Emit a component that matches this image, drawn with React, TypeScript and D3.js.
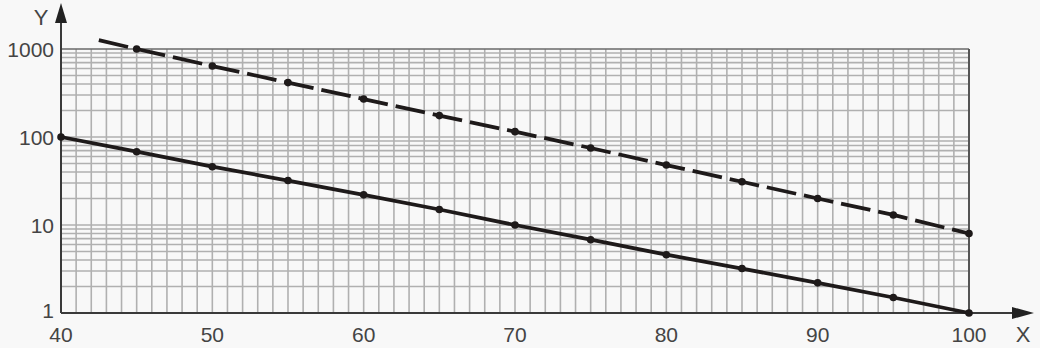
import React from "react";
import * as d3 from "d3";

const xTicks = [40, 50, 60, 70, 80, 90, 100];
const yTicks = [1, 10, 100, 1000];
const solidX = [40, 45, 50, 55, 60, 65, 70, 75, 80, 85, 90, 95, 100];
const solidY = [100, 68, 46, 32, 22, 15, 10, 6.8, 4.6, 3.2, 2.2, 1.5, 1];
const dashX = [42.5, 45, 50, 55, 60, 65, 70, 75, 80, 85, 90, 95, 100];
const dashY = [1260, 1000, 640, 415, 270, 175, 115, 75, 48, 31, 20, 13, 8];
const dashMarkers = [45, 50, 55, 60, 65, 70, 75, 80, 85, 90, 95, 100];

const W = 1040;
const H = 348;

export default function App() {
  const x = d3.scaleLinear().domain([40, 100]).range([61, 969]);
  const y = d3.scaleLog().domain([1, 1000]).range([313, 49]);

  const vGrid = d3.range(41, 100, 1);
  const hGrid: number[] = [];
  for (const dec of [1, 10, 100]) {
    for (let k = 2; k <= 10; k++) hGrid.push(dec * k);
  }

  const line = d3
    .line<[number, number]>()
    .x((d) => x(d[0]))
    .y((d) => y(d[1]));

  const solidPts: [number, number][] = solidX.map((v, i) => [v, solidY[i]]);
  const dashPts: [number, number][] = dashX.map((v, i) => [v, dashY[i]]);

  const font = "'Liberation Sans', Arial, Helvetica, sans-serif";
  const axisColor = "#3a3a3a";
  const gridColor = "#b0b0b0";
  const txt = "#444";

  return (
    <svg
      width={W}
      height={H}
      style={{ position: "absolute", left: 0, top: 0, background: "#f8f8f8" }}
    >
      <rect x={0} y={0} width={W} height={H} fill="#f8f8f8" />
      {vGrid.map((v) => (
        <line
          key={"v" + v}
          x1={x(v)}
          x2={x(v)}
          y1={y(1)}
          y2={y(1000)}
          stroke={gridColor}
          strokeWidth={1.6}
        />
      ))}
      {hGrid.map((v) => (
        <line
          key={"h" + v}
          x1={x(40)}
          x2={x(100)}
          y1={y(v)}
          y2={y(v)}
          stroke={v === 1000 ? "#6a6a6a" : gridColor}
          strokeWidth={1.6}
        />
      ))}
      <line x1={x(100)} x2={x(100)} y1={y(1)} y2={y(1000)} stroke="#555" strokeWidth={2} />
      <line x1={x(40)} x2={x(40)} y1={y(1)} y2={12} stroke={axisColor} strokeWidth={2} />
      <path d={`M${x(40) - 6},${23} L${x(40)},3 L${x(40) + 6},${23} Z`} fill="#222" />
      <line x1={x(40)} x2={1020} y1={y(1)} y2={y(1)} stroke={axisColor} strokeWidth={2} />
      <path d={`M1012,${y(1) - 6} L1034,${y(1)} L1012,${y(1) + 6} Z`} fill="#222" />
      <path
        d={line(solidPts) || ""}
        fill="none"
        stroke="#1e1a1a"
        strokeWidth={3.8}
        strokeLinejoin="round"
      />
      <path
        d={line(dashPts) || ""}
        fill="none"
        stroke="#1e1a1a"
        strokeWidth={3.8}
        strokeDasharray="30 8"
      />
      {solidPts.map((p, i) => (
        <circle key={"s" + i} cx={x(p[0])} cy={y(p[1])} r={3.8} fill="#1e1a1a" />
      ))}
      {dashPts
        .filter((p) => dashMarkers.includes(p[0]))
        .map((p, i) => (
          <circle key={"d" + i} cx={x(p[0])} cy={y(p[1])} r={3.8} fill="#1e1a1a" />
        ))}
      {yTicks.map((t) => (
        <text
          key={"yt" + t}
          x={54}
          y={t === 1 ? y(t) - 3 : y(t)}
          textAnchor="end"
          dominantBaseline="central"
          fontFamily={font}
          fontSize={21}
          fill={txt}
        >
          {t}
        </text>
      ))}
      {xTicks.map((t) => (
        <text
          key={"xt" + t}
          x={x(t)}
          y={334}
          textAnchor="middle"
          dominantBaseline="central"
          fontFamily={font}
          fontSize={21}
          fill={txt}
        >
          {t}
        </text>
      ))}
      <text x={41} y={17} textAnchor="middle" dominantBaseline="central" fontFamily={font} fontSize={22} fill={txt}>
        Y
      </text>
      <text x={1023} y={334} textAnchor="middle" dominantBaseline="central" fontFamily={font} fontSize={22} fill={txt}>
        X
      </text>
    </svg>
  );
}
